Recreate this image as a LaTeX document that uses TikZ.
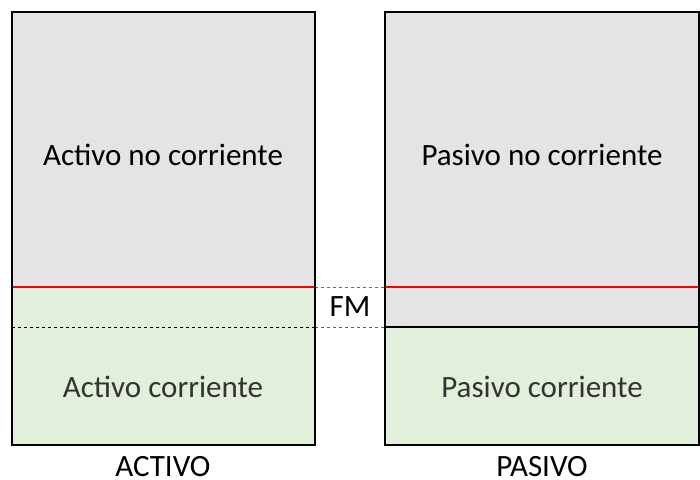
\documentclass[tikz,border=0pt]{standalone}
\usepackage{fontspec}
\setmainfont{Carlito}
\usetikzlibrary{positioning}
\definecolor{nocorr}{HTML}{E4E4E4}
\definecolor{corr}{HTML}{E2EFDA}
\definecolor{fmblue}{HTML}{4A6EA8}
\definecolor{fmgreen}{HTML}{556B3F}
\tikzset{
  caja/.style={draw=black,line width=1.5pt},
  rojo/.style={draw=red,line width=1.2pt},
  texto/.style={font=\fontsize{31}{36}\selectfont,text=black},
  ligero/.style={font=\fontsize{31}{36}\selectfont,text=black!80},
  pie/.style={texto,inner sep=0pt,anchor=base},
}
\begin{document}
\begin{tikzpicture}[x=1pt,y=-1pt]
  \useasboundingbox (0,0) rectangle (700,479);
  \fill[nocorr] (12,12) rectangle (315,287);
  \fill[corr] (12,287) rectangle (315,445);
  \fill[nocorr] (385,12) rectangle (699,327);
  \fill[corr] (385,327) rectangle (699,445);
  \draw[black,dashed,line width=0.8pt] (12,327) -- (315,327);
  \draw[fmblue,dashed,line width=0.6pt] (315,287) -- (385,287);
  \draw[fmgreen,dashed,line width=0.8pt] (315,327) -- (385,327);
  \draw[black,line width=1.2pt] (385,327) -- (699,327);
  \draw[rojo] (12,287) -- (315,287);
  \draw[rojo] (385,287) -- (699,287);
  \draw[caja] (12,12) rectangle (315,445);
  \draw[caja] (385,12) rectangle (699,445);
  \node[texto] (anc) at (163,155) {Activo no corriente};
  \node[texto] (pnc) at (542,155) {Pasivo no corriente};
  \node[texto] (fm) at (350,307) {FM};
  \node[ligero] (ac) at (163,387) {Activo corriente};
  \node[ligero] (pc) at (542,387) {Pasivo corriente};
  \node[pie] (act) at (163,476) {ACTIVO};
  \node[pie] (pas) at (542,476) {PASIVO};
\end{tikzpicture}
\end{document}
